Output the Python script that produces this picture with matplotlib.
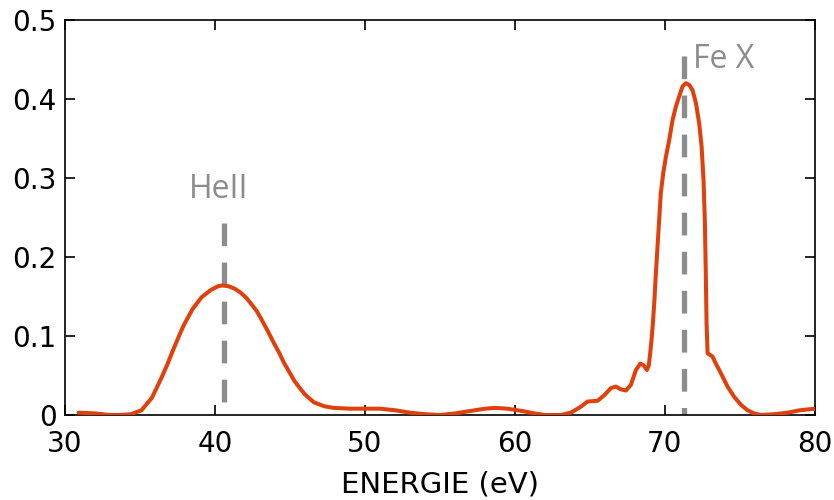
import matplotlib
matplotlib.use('Agg')
import matplotlib.pyplot as plt

# spectrum
energy = [30.9, 32.0, 33.0, 33.7, 34.4, 35.1, 35.8, 36.4, 36.8, 37.2, 37.6, 37.9, 38.5,
          39.1, 39.7, 40.2, 40.5, 40.9, 41.3, 41.7, 42.1, 42.4, 42.8, 43.1, 43.5, 43.9,
          44.3, 44.6, 45.0, 45.3, 45.7, 46.0, 46.6, 47.3, 47.9, 49.0, 50.0, 51.0, 52.0,
          53.0, 54.0, 55.0, 56.0, 57.0, 58.0, 58.7, 59.5, 60.5, 61.3, 62.0, 63.07, 63.73,
          64.4, 64.84, 65.51, 65.96, 66.4, 66.73, 67.07, 67.4, 67.73, 68.07, 68.36, 68.58,
          68.8, 68.93, 69.02, 69.11, 69.2, 69.29, 69.4, 69.51, 69.62, 69.73, 69.89, 70.07,
          70.29, 70.51, 70.73, 70.95, 71.18, 71.4, 71.62, 71.85, 72.07, 72.29, 72.45,
          72.58, 72.67, 72.73, 72.78, 72.85, 73.18, 73.4, 73.73, 74.18, 74.62, 75.07,
          75.51, 75.95, 76.4, 77.3, 78.2, 79.0, 80.0]
signal = [0.003, 0.002, 0.000, 0.000, 0.001, 0.006, 0.022, 0.046, 0.063, 0.082, 0.100,
          0.113, 0.134, 0.149, 0.158, 0.163, 0.164, 0.163, 0.160, 0.155, 0.148, 0.141,
          0.131, 0.121, 0.107, 0.092, 0.078, 0.066, 0.053, 0.043, 0.033, 0.026, 0.016,
          0.011, 0.009, 0.008, 0.008, 0.008, 0.006, 0.003, 0.001, 0.000, 0.002, 0.005,
          0.008, 0.009, 0.008, 0.005, 0.002, 0.000, 0.000, 0.003, 0.0105, 0.017, 0.018,
          0.025, 0.034, 0.036, 0.0325, 0.031, 0.038, 0.057, 0.065, 0.063, 0.057, 0.063,
          0.078, 0.095, 0.116, 0.141, 0.179, 0.213, 0.247, 0.281, 0.306, 0.327, 0.348,
          0.373, 0.390, 0.403, 0.416, 0.420, 0.418, 0.411, 0.395, 0.369, 0.340, 0.297,
          0.243, 0.179, 0.116, 0.078, 0.074, 0.065, 0.053, 0.036, 0.023, 0.013, 0.006,
          0.002, 0.000, 0.001, 0.003, 0.006, 0.008]

line_energy = [40.58, 71.3]
line_top = [0.243, 0.454]
line_names = ['HeII', 'Fe X']
label_x = [40.23, 73.9]
label_y = [0.275, 0.439]

fig = plt.figure(figsize=(8.34, 5), dpi=100)
ax = fig.add_axes([0.078, 0.17, 0.899, 0.79])

# dashed marker lines, drawn top-down so the pattern starts with a dash at the top
for e, top in zip(line_energy, line_top):
    ax.plot([e, e], [top, 0], color='#8c8c8c', linewidth=3.8,
            dashes=(4.3, 3.1), zorder=2)

ax.plot(energy, signal, color='#e0400c', linewidth=2.9, zorder=3,
        solid_joinstyle='round', solid_capstyle='round')

for name, lx, ly in zip(line_names, label_x, label_y):
    ax.text(lx, ly, name, color='#8c8c8c', fontsize=23,
            family='Open Sans', ha='center', va='baseline')

ax.set_xlim(30, 80)
ax.set_ylim(0, 0.5)
ax.set_xticks([30, 40, 50, 60, 70, 80])
ax.set_yticks([0, 0.1, 0.2, 0.3, 0.4, 0.5])
ax.set_yticklabels(['0', '0.1', '0.2', '0.3', '0.4', '0.5'])
ax.tick_params(direction='in', length=7, width=1.2, top=True, right=True,
               labelsize=20)
ax.tick_params(axis='x', pad=11)
ax.tick_params(axis='y', pad=6)
for sp in ax.spines.values():
    sp.set_linewidth(1.2)
ax.set_xlabel('ENERGIE (eV)', fontsize=21, labelpad=9)

plt.savefig('out.png', dpi=100)
